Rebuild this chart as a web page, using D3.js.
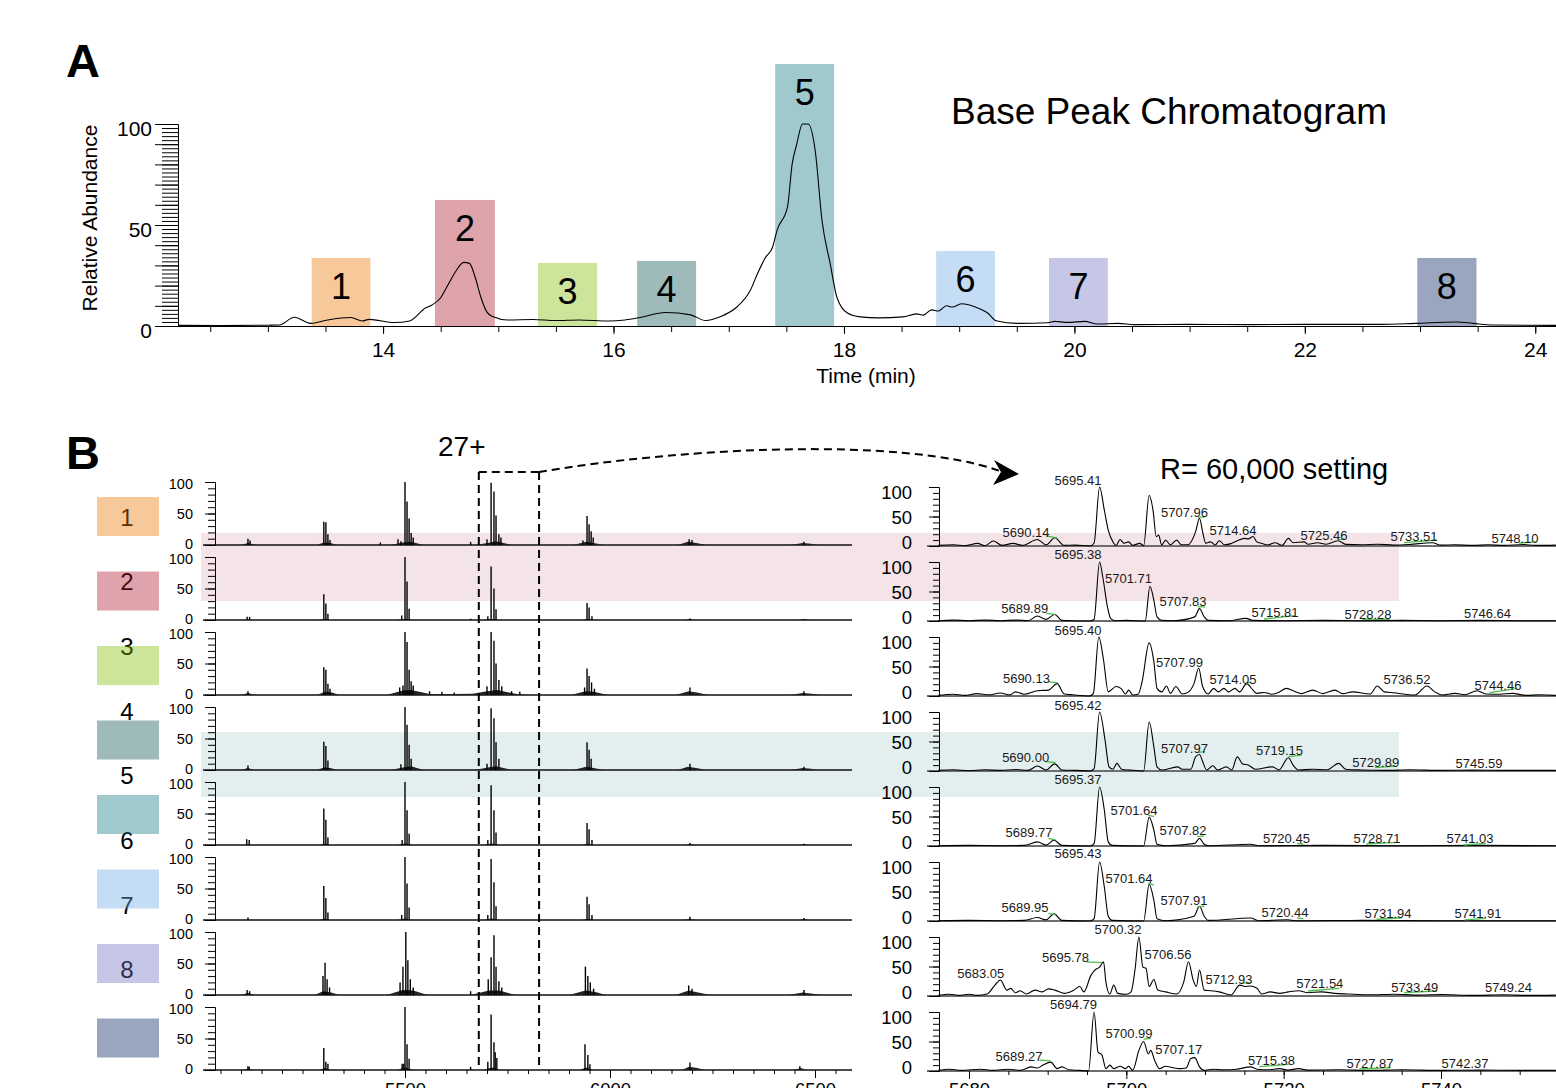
<!doctype html>
<html lang="en">
<head>
<meta charset="utf-8" />
<title>Base Peak Chromatogram / fraction spectra</title>
<script src="https://d3js.org/d3.v7.min.js"></script>
<style>
  body { margin: 0; background: #fff; }
  svg { display: block; font-family: "Liberation Sans", Arial, sans-serif; }
</style>
</head>
<body>
<script>
// ---------------- data ----------------
var fractions = ["1", "2", "3", "4", "5", "6", "7", "8"];
var fractionColors = ["#f7c89a", "#dea3ab", "#cce59a", "#9fbabb", "#9fc9cc", "#c4dcf4", "#c6c6e6", "#9aa6c0"];

// collection windows on the chromatogram (min) and marker height (% scale)
var windowStart = [13.38, 14.45, 15.345, 16.205, 17.403, 18.80, 19.78, 22.976];
var windowEnd   = [13.89, 14.97, 15.858, 16.717, 17.915, 19.31, 20.29, 23.49];
var windowTop   = [33.7, 62.4, 31.2, 32.2, 129.7, 37.1, 33.7, 33.7];

// base peak chromatogram [time (min), relative abundance]
var bpc = [[12.22,0.3],[12.6,0.2],[13.0,0.4],[13.1,0.5],[13.23,4.3],[13.37,1.3],[13.52,3],[13.72,4.2],
  [13.82,2.5],[13.88,3.3],[14.1,1.7],[14.23,2.5],[14.37,9],[14.43,10.6],[14.5,14],[14.56,20],[14.63,27],
  [14.7,31.5],[14.75,31],[14.8,24],[14.85,14],[14.9,7],[14.95,4.7],[15.08,3],[15.3,3.2],[15.5,2.7],
  [15.7,3],[15.96,2.5],[16.1,3],[16.23,4.2],[16.45,6.7],[16.67,5.5],[16.8,2.7],[16.93,4.7],[17.07,9.4],
  [17.19,18],[17.25,26],[17.32,34],[17.38,39],[17.42,47.5],[17.51,59],[17.55,80],[17.59,90],[17.64,100],
  [17.69,100],[17.75,87],[17.81,52],[17.88,31],[17.94,14],[18.03,6.4],[18.14,4.5],[18.3,4],[18.51,4.5],
  [18.63,6],[18.69,5.4],[18.76,8],[18.82,7.4],[18.89,10],[18.94,9.4],[19.02,11],[19.14,9.4],[19.25,6.3],
  [19.32,2.6],[19.5,1.3],[19.77,1.6],[19.83,2.3],[19.94,1.8],[20.09,2.3],[20.2,1],[20.38,1.3],[20.52,0.7],
  [21.0,0.8],[21.5,0.7],[22.0,0.8],[22.66,0.8],[22.96,1.3],[23.32,2],[23.46,1.3],[23.64,0.5],[24.18,0.3]];

var timeTicks = [14, 16, 18, 20, 22, 24];
var abundanceTicks = [0, 50, 100];
var mzTicksLow = [5500, 6000, 6500];
var mzTicksHigh = [5680, 5700, 5720, 5740];
var zoomWindow = [5680, 5827];   // m/z range shown at high resolution (27+)

// low resolution spectra: centroid sticks [m/z, %]
var lowSticks = [
  [[5117,10],[5122,7],[5302,37],[5307,36],[5312,17],[5317,8],[5440,4],[5483,9],[5490,6],[5500,100],[5505,69],
   [5510,42],[5515,19],[5520,12],[5660,5],[5700,9],[5710,99],[5717,85],[5722,47],[5729,17],[5734,12],
   [5934,7],[5944,46],[5949,33],[5954,22],[5959,12],[6193,9],[6200,8],[6473,5]],
  [[5115,5],[5121,5],[5302,41],[5307,26],[5312,10],[5492,7],[5500,100],[5505,61],[5510,18],[5660,2],
   [5702,6],[5710,85],[5717,50],[5722,17],[5944,27],[5949,20],[5956,6],[6195,2.5],[6473,1.5]],
  [[5117,6],[5302,44],[5307,40],[5312,18],[5317,10],[5487,12],[5495,15],[5500,100],[5505,84],[5510,40],
   [5515,22],[5520,15],[5560,6],[5590,5],[5620,4],[5700,14],[5710,100],[5717,86],[5722,50],[5729,24],
   [5736,14],[5760,6],[5780,5],[5938,12],[5944,42],[5949,30],[5955,20],[5962,10],[6195,12],[6473,6]],
  [[5117,7],[5302,45],[5307,38],[5312,15],[5490,9],[5500,100],[5505,72],[5510,40],[5515,18],[5700,10],
   [5710,98],[5717,82],[5722,44],[5729,18],[5944,44],[5949,32],[5954,18],[6195,10],[6473,5]],
  [[5114,9],[5120,8],[5302,58],[5307,40],[5312,12],[5493,8],[5500,100],[5505,55],[5510,18],[5702,8],
   [5710,95],[5717,55],[5722,20],[5944,35],[5949,25],[5956,8],[6195,3],[6473,2]],
  [[5117,4],[5302,54],[5307,35],[5312,12],[5492,8],[5500,100],[5505,58],[5510,20],[5702,8],[5710,97],
   [5717,60],[5722,22],[5944,37],[5949,25],[5956,8],[6195,5],[6473,3]],
  [[5115,8],[5121,6],[5300,30],[5305,51],[5310,25],[5316,12],[5488,20],[5495,45],[5502,100],[5507,55],
   [5513,25],[5520,12],[5660,6],[5703,25],[5710,60],[5717,95],[5722,45],[5729,22],[5736,12],[5940,45],
   [5946,30],[5952,20],[5960,10],[6192,15],[6200,10],[6473,8]],
  [[5117,6],[5120,5],[5302,35],[5307,13],[5312,10],[5493,10],[5497,10],[5500,100],[5505,41],[5510,18],
   [5660,5],[5702,13],[5710,88],[5717,44],[5720,28],[5724,19],[5939,41],[5946,24],[5951,9],[6195,12],[6463,6]]
];

// low resolution spectra: unresolved envelope under the sticks [m/z, %]
var lowEnvelope = [
  [[5100,0],[5117,3],[5130,1],[5138,0],[5285,0],[5302,4],[5318,3],[5335,0],[5465,0],[5495,4],[5515,5],[5545,0],
   [5670,0],[5702,3],[5722,6],[5760,0],[5910,0],[5942,5],[5960,3],[5985,0],[6165,0],[6190,5],[6210,3],[6235,0],
   [6440,0],[6470,3],[6490,2],[6508,0]],
  [[5290,0],[5302,1.5],[5318,0],[5480,0],[5500,2],[5520,0],[5690,0],[5710,2],[5730,0],[5930,0],[5945,1.5],[5960,0],
   [6180,0],[6195,1.5],[6210,0],[6460,0],[6473,1],[6487,0]],
  [[5100,0],[5117,3],[5135,0],[5285,0],[5305,5],[5322,4],[5340,0],[5455,0],[5495,7],[5515,8],[5560,1.5],[5620,1.5],
   [5665,2],[5700,6],[5725,8],[5775,1],[5810,0],[5905,0],[5940,6],[5960,5],[5995,0],[6160,0],[6192,6],[6212,4],
   [6240,0],[6440,0],[6470,3],[6492,2],[6510,0]],
  [[5100,0],[5117,3],[5132,0],[5285,0],[5302,4],[5318,3],[5335,0],[5465,0],[5495,4],[5515,6],[5545,0],
   [5670,0],[5702,4],[5722,6],[5760,0],[5910,0],[5942,5],[5960,3],[5985,0],[6165,0],[6190,5],[6210,3],[6235,0],
   [6440,0],[6470,3],[6490,2],[6508,0]],
  [[5290,0],[5302,2],[5318,0],[5480,0],[5500,2.5],[5520,0],[5690,0],[5712,2.5],[5730,0],[5930,0],[5945,2],[5960,0],
   [6180,0],[6195,1.5],[6210,0],[6460,0],[6473,1],[6487,0]],
  [[5290,0],[5302,2],[5318,0],[5480,0],[5500,2.5],[5520,0],[5690,0],[5712,2.5],[5730,0],[5930,0],[5945,2],[5960,0],
   [6180,0],[6195,2],[6210,0],[6460,0],[6473,1.5],[6487,0]],
  [[5100,0],[5117,3],[5135,0],[5280,0],[5300,6],[5320,4],[5340,0],[5455,0],[5495,8],[5520,7],[5555,0],
   [5660,0],[5705,7],[5730,7],[5770,0],[5900,0],[5940,7],[5962,5],[5990,0],[6160,0],[6192,7],[6215,4],[6245,0],
   [6435,0],[6470,4],[6495,2],[6515,0]],
  [[5105,0],[5117,2],[5130,0],[5290,0],[5305,3],[5320,0],[5480,0],[5500,4],[5520,0],[5690,0],[5712,4],[5735,0],
   [5925,0],[5942,4],[5960,0],[6175,0],[6193,5],[6213,3],[6230,0],[6450,0],[6465,3],[6480,0]]
];

// high resolution profiles of the 27+ region [m/z, %]
var highRes = [
  [[5676.1,1],[5678,2],[5679.5,0.5],[5681.1,4.5],[5682,0.5],[5683.1,8.4],[5684.2,1],[5685.6,4.5],[5686.8,1],
   [5688.7,11],[5689.8,2],[5690.9,14],[5692.1,1],[5693.5,1.5],[5695.4,0],[5695.9,5],[5696.6,100],[5697.2,61],
   [5697.7,27],[5698.3,7],[5698.7,1],[5699.2,11],[5699.7,4.5],[5700.3,7],[5700.8,1],[5701.7,4.5],[5702.2,0.5],
   [5702.9,86],[5703.4,60],[5703.8,16],[5704.1,18.5],[5704.5,1.7],[5705.0,10],[5705.6,2],[5706.4,10],[5707.0,2],
   [5707.8,2],[5708.8,24],[5709.3,47],[5709.7,24],[5710.1,4.5],[5710.7,7],[5711.3,1.7],[5711.8,9],[5712.5,2],
   [5713.3,4],[5714.1,9],[5715.0,13],[5715.5,12],[5716.1,16],[5716.6,7],[5717.2,4.5],[5718.0,1.7],[5718.9,5.6],
   [5719.8,1],[5720.6,13],[5721.2,5.6],[5722.6,7],[5723.1,3],[5724.3,5.6],[5725.4,3],[5726.9,9],[5727.9,2.8],
   [5729.9,2],[5732,3],[5734,1.5],[5736,2.5],[5738.9,5.6],[5740,1.5],[5741.8,2],[5744,1],[5746,2],[5748,1],
   [5750.5,2.5],[5752,1],[5754.6,1.5]],
  [[5676.1,0.5],[5678,1.5],[5680,0.5],[5682,1.5],[5684,0.5],[5686,1.5],[5687.5,0.5],[5688.7,8.4],[5689.8,2.8],
   [5690.9,11],[5691.8,1],[5693,0.5],[5695.4,0],[5695.9,3],[5696.6,100],[5697.0,75],[5697.6,24],[5698.0,4.5],
   [5698.6,0.5],[5700,1],[5702.4,0],[5703.0,59],[5703.5,35],[5703.9,7],[5704.5,1],[5706,0.5],[5708.7,7],
   [5709.3,21],[5709.9,7],[5710.4,1],[5713,0.5],[5715.2,4.5],[5716.1,1],[5720,0.5],[5725,1],[5730,0.5],
   [5735,1],[5740,0.5],[5745,1],[5750,0.5],[5754.6,0.5]],
  [[5676.1,1],[5678,3],[5679.5,1],[5681,4],[5682.5,2],[5684,5],[5685.2,2],[5685.9,7],[5687,3],[5688.7,9],
   [5690.1,10],[5691.2,21],[5692.1,3.4],[5693.2,2],[5695.3,0],[5695.8,4],[5696.5,100],[5697.1,61],[5697.7,7],
   [5698.7,16],[5699.3,13],[5699.9,3.4],[5700.3,10],[5700.8,1.7],[5701.5,3],[5702.0,24],[5702.9,90],[5703.5,58],
   [5703.9,13],[5704.5,7],[5705.1,17],[5705.6,4.5],[5706.3,16],[5707.1,3.4],[5707.9,7],[5708.6,21],[5709.2,47],
   [5709.7,16],[5710.4,3.4],[5711.1,13],[5711.7,7],[5712.4,13],[5713.0,7],[5713.8,13],[5714.4,7],[5715.3,21],
   [5716.1,10],[5716.6,4.5],[5717.5,6],[5718.5,3],[5719.5,7],[5720.3,13],[5721.2,9],[5722.3,4],[5723.7,10],
   [5725,4],[5726.5,10],[5727.5,4],[5728.8,7],[5731.0,3.4],[5731.9,17],[5732.8,7],[5733.9,5.6],[5736.7,1.7],
   [5738.2,17],[5739.2,7],[5740.1,1.7],[5741.8,4.5],[5743,2],[5744.6,9],[5745.7,3.4],[5747.5,3],[5749.1,4.5],
   [5750.8,1],[5752.5,2],[5754.6,1]],
  [[5676.1,1],[5678,2],[5680,0.5],[5682,2],[5684,1],[5686,2.5],[5687.5,1],[5688.7,8.4],[5689.8,1.7],[5690.9,12],
   [5691.8,1.7],[5693.5,1],[5695.4,0],[5695.9,4],[5696.6,100],[5697.3,52],[5697.8,7],[5698.3,3],[5698.8,13],
   [5699.4,3],[5700.5,1.5],[5702.2,0],[5702.9,83],[5703.5,41],[5703.9,7],[5704.5,1.7],[5706.5,7],[5707.1,3],
   [5708.2,3],[5708.8,24],[5709.3,28],[5709.7,16],[5710.2,1.7],[5711.0,9],[5711.6,1.7],[5712.7,7],[5713.4,1.7],
   [5714.1,24],[5714.8,12],[5715.5,10],[5716.4,3],[5718.6,7],[5719.4,1.7],[5720.6,22.5],[5721.2,10],[5721.9,1.7],
   [5723.7,3],[5725.5,2],[5727.0,13],[5727.9,3],[5729.9,1.7],[5733,1],[5736,2],[5740,1],[5744,1.5],[5748,1],
   [5754.6,1]],
  [[5676.1,0.5],[5680,1],[5684,0.5],[5687,1],[5688.7,7],[5689.8,1.7],[5690.8,10],[5691.8,1],[5695.4,0],
   [5695.9,4],[5696.6,100],[5697.2,61],[5697.7,7],[5698.2,1],[5702.2,0],[5702.9,49],[5703.5,27],[5703.9,3],
   [5705,0.5],[5708.7,4.5],[5709.3,13],[5709.9,3],[5710.4,0.5],[5715.8,3],[5716.9,0.5],[5725,1],[5735,0.5],
   [5745,1],[5754.6,0.5]],
  [[5676.1,0.5],[5680,1],[5684,0.5],[5687,1],[5688.7,6],[5689.8,2],[5690.8,12],[5691.8,1],[5695.4,0],
   [5695.9,4],[5696.6,100],[5697.2,58],[5697.7,8],[5698.2,1],[5702.2,0],[5702.9,62],[5703.5,35],[5703.9,4],
   [5705,0.5],[5708.6,8],[5709.3,25],[5709.9,8],[5710.4,1],[5715.8,5],[5716.9,0.5],[5720.5,2],[5721.5,0.5],
   [5730,1],[5740,0.5],[5754.6,0.5]],
  [[5676.1,1],[5677.5,3],[5678.8,1],[5680,3],[5681,1],[5682.3,3.4],[5683.3,18.5],[5684.0,27],[5684.8,10],
   [5685.3,13],[5685.9,5.6],[5686.5,9],[5687.3,3.4],[5688.4,10],[5689.3,7],[5690.1,12],[5690.9,10],[5692.1,4.5],
   [5693.2,9],[5694.1,16],[5694.6,7],[5695.5,35],[5696.0,44],[5696.6,49],[5697.1,58],[5697.4,24],[5697.9,3.4],
   [5698.4,18.5],[5698.9,4.5],[5700.0,3],[5700.6,7],[5701.1,44],[5701.6,100],[5702.1,49],[5702.5,47],[5702.9,16],
   [5703.5,28],[5704.0,10],[5705.0,7],[5706.4,3.4],[5707.3,24],[5707.9,58],[5708.5,27],[5708.9,16],[5709.3,44],
   [5709.9,10],[5710.7,9],[5711.8,7],[5713.3,1.7],[5714.4,18.5],[5715.1,16],[5715.7,17],[5716.6,13],[5717.2,3.4],
   [5718.3,7],[5719.5,4.5],[5720.6,7],[5721.9,9],[5723.1,5.6],[5724.8,7],[5726.5,4.5],[5728.2,3.4],[5731,2],
   [5734,3],[5737,1.5],[5740,2.5],[5744,1],[5748,2],[5751,1],[5754.6,1.5]],
  [[5676.1,1],[5677.5,3],[5679,1],[5681.5,3],[5683,1],[5685,3],[5686.5,1],[5687.9,7],[5688.7,5],[5689.4,10],
   [5690.4,15],[5691.2,4],[5691.8,7],[5692.7,2],[5694,1],[5695.2,0],[5695.9,100],[5696.4,32],[5696.9,27],
   [5697.4,4],[5697.9,10],[5698.4,4],[5699.2,8],[5699.9,4],[5700.3,8],[5700.8,1],[5701.6,35],[5702.2,50],
   [5702.8,29],[5703.1,35],[5703.6,18],[5704.2,4],[5705.0,8],[5705.9,5.6],[5706.8,4],[5707.6,5],[5708.2,21],
   [5708.7,22.6],[5709.3,7],[5709.9,1],[5711,3],[5712.5,2],[5714,3],[5715.8,7],[5716.6,3],[5718,2],[5719.5,4],
   [5720.5,1.5],[5721.9,4],[5723,1.5],[5727,2],[5731,1],[5735,2],[5740,1],[5745,1.5],[5750,1],[5754.6,1]]
];

// peak annotations [text, m/z anchor, % anchor]
var peakLabels = [
  [["5695.41",5693.86,103.4],["5690.14",5687.25,15.3],["5707.96",5707.39,49.2],["5714.64",5713.56,18.6],
   ["5725.46",5725.13,10.2],["5733.51",5736.57,8.5],["5748.10",5749.4,5.6]],
  [["5695.38",5693.86,105],["5701.71",5700.27,65],["5707.83",5707.2,25.4],["5689.89",5687.08,14],
   ["5715.81",5718.9,7.3],["5728.28",5730.72,3.9],["5746.64",5745.92,5]],
  [["5695.40",5693.86,103.4],["5707.99",5706.77,49.7],["5690.13",5687.3,22],["5714.05",5713.56,20.3],
   ["5736.52",5735.68,20.3],["5744.46",5747.24,10.2]],
  [["5695.42",5693.86,103.4],["5707.97",5707.39,31],["5719.15",5719.47,27],["5690.00",5687.2,15.8],
   ["5729.89",5731.7,7.3],["5745.59",5744.83,5]],
  [["5695.37",5693.86,105],["5701.64",5700.97,52.5],["5707.82",5707.2,18.6],["5689.77",5687.63,15.8],
   ["5720.45",5720.35,5.6],["5728.71",5731.86,5.6],["5741.03",5743.68,5.6]],
  [["5695.43",5693.86,106],["5701.64",5700.34,64.4],["5707.91",5707.33,27],["5689.95",5687.12,15.3],
   ["5720.44",5720.17,6.8],["5731.94",5733.26,5],["5741.91",5744.7,5]],
  [["5700.32",5698.94,105],["5706.56",5705.3,62.7],["5695.78",5692.27,58],["5683.05",5681.5,30.5],
   ["5712.93",5713.05,20.3],["5721.54",5724.6,13.6],["5733.49",5736.67,7.3],["5749.24",5748.58,7.3]],
  [["5694.79",5693.28,105],["5700.99",5700.34,56],["5707.17",5706.66,28.8],["5689.27",5686.36,17],
   ["5715.38",5718.45,10.2],["5727.87",5730.97,5.6],["5742.37",5743.05,5.6]]
];

// green leader marks of the peak picker [m/z1, %1, m/z2, %2]
var leaderMarks = [
  [[5689.8,17,5691.2,13.6],[5709.1,49,5710,49],[5726.8,10,5727.7,12],[5735.3,5.6,5739.5,10.2],[5749.9,5,5752.2,7.3]],
  [[5689.8,13,5691.0,11.4],[5709.1,24,5710,24],[5717.5,3.4,5721.4,9],[5730,2.9,5733.5,2.9]],
  [[5690.1,24,5691.2,22.5],[5715.2,22,5715.8,24],[5746.2,5.6,5749.7,13]],
  [[5709,31,5709.9,32.7],[5720.6,24.3,5722.3,27],[5689.8,15.8,5691,14],[5731.6,5.6,5734.2,8.5]],
  [[5702.8,52.5,5703.5,49.7],[5709,15.8,5709.9,17],[5690.1,13,5691,10.2],[5721.7,4.5,5722.5,3.4],
   [5730.5,3.4,5734.4,6.3],[5742.9,1.7,5745.7,4.5]],
  [[5702.8,64,5703.5,61],[5709,24,5709.9,25],[5690.1,13,5691,11],[5721.7,5,5722.5,4],[5731.8,3,5735,5.5],
   [5743,2,5745.7,4.5]],
  [[5694.9,58,5696.9,56.4],[5714.5,21.5,5715.8,22.6],[5723.1,8.5,5727.1,13],[5735.3,5.6,5739.5,8.5]],
  [[5702.2,54,5703.1,55.4],[5689,18.6,5690.4,17],[5716.9,7.3,5720.6,11.4],[5729.6,3.4,5733.6,5.6]]
];

// ---------------- layout ----------------
var W = 1556, H = 1088;
var font = '"Liberation Sans", Arial, sans-serif';

var svg = d3.select("body").append("svg")
    .attr("width", W)
    .attr("height", H);

// ===== Panel A =====
var xA = d3.scaleLinear().domain([12.22, 24.18]).range([178, 1556]);
var yA = d3.scaleLinear().domain([0, 100]).range([326, 124]);

var gA = svg.append("g");

gA.selectAll("rect.win")
  .data(fractions)
  .enter().append("rect")
    .attr("class", "win")
    .attr("x", function(d, i) { return xA(windowStart[i]); })
    .attr("width", function(d, i) { return xA(windowEnd[i]) - xA(windowStart[i]); })
    .attr("y", function(d, i) { return yA(windowTop[i]); })
    .attr("height", function(d, i) { return yA(0) - yA(windowTop[i]); })
    .attr("fill", function(d, i) { return fractionColors[i]; });

gA.selectAll("text.winlab")
  .data(fractions)
  .enter().append("text")
    .attr("class", "winlab")
    .attr("x", function(d, i) { return (xA(windowStart[i]) + xA(windowEnd[i])) / 2; })
    .attr("y", function(d, i) { return yA(windowTop[i]) + 41; })
    .attr("text-anchor", "middle")
    .attr("font-size", 36)
    .text(function(d) { return d; });

var lineA = d3.line()
    .x(function(d) { return xA(d[0]); })
    .y(function(d) { return yA(d[1]); })
    .curve(d3.curveMonotoneX);

gA.append("path")
    .datum(bpc)
    .attr("d", lineA)
    .attr("fill", "none")
    .attr("stroke", "#000")
    .attr("stroke-width", 1.1);

// y axis: minor every 2, major every 10
gA.append("g")
    .attr("transform", "translate(178,0)")
    .call(d3.axisLeft(yA).tickValues(d3.range(0, 101, 2)).tickSize(16).tickSizeOuter(0).tickFormat(""));
gA.append("g")
    .attr("transform", "translate(178,0)")
    .call(d3.axisLeft(yA).tickValues(d3.range(0, 101, 10)).tickSize(23).tickSizeOuter(0).tickPadding(3)
      .tickFormat(function(d) { return abundanceTicks.indexOf(d) >= 0 ? d : ""; }))
  .selectAll("text")
    .attr("font-size", 21)
    .attr("font-family", font)
    .attr("fill", "#000")
    .attr("dy", "0.55em");

// x axis
gA.append("g")
    .attr("transform", "translate(0,326)")
    .call(d3.axisBottom(xA).tickValues(d3.range(12.5, 24.01, 0.5)).tickSize(6).tickSizeOuter(0).tickFormat(""));
gA.append("g")
    .attr("transform", "translate(0,326)")
    .call(d3.axisBottom(xA).tickValues(timeTicks).tickSize(8).tickSizeOuter(0))
  .selectAll("text")
    .attr("font-size", 21)
    .attr("font-family", font)
    .attr("fill", "#000")
    .attr("y", 31)
    .attr("dy", 0);

gA.selectAll(".domain, .tick line").attr("stroke", "#000");

gA.append("text")
    .attr("x", 866).attr("y", 383)
    .attr("text-anchor", "middle")
    .attr("font-size", 21)
    .text("Time (min)");

gA.append("text")
    .attr("transform", "translate(97,218) rotate(-90)")
    .attr("text-anchor", "middle")
    .attr("font-size", 21)
    .text("Relative Abundance");

gA.append("text")
    .attr("x", 951).attr("y", 124)
    .attr("font-size", 37)
    .text("Base Peak Chromatogram");

svg.append("text")
    .attr("x", 66).attr("y", 77)
    .attr("font-size", 47).attr("font-weight", "bold")
    .text("A");

// ===== Panel B =====
var gB = svg.append("g");

// highlight bands
gB.append("rect").attr("x", 201).attr("y", 533).attr("width", 1198).attr("height", 68).attr("fill", "#f5e4e7");
gB.append("rect").attr("x", 201).attr("y", 732).attr("width", 1198).attr("height", 65).attr("fill", "#e3efee");

svg.append("text")
    .attr("x", 66).attr("y", 469)
    .attr("font-size", 47).attr("font-weight", "bold")
    .text("B");

// fraction legend: numbers under translucent boxes
var legend = gB.append("g");
legend.selectAll("text")
  .data(fractions)
  .enter().append("text")
    .attr("x", 127)
    .attr("y", function(d, i) { return 517 + 64.7 * i + 8.5; })
    .attr("text-anchor", "middle")
    .attr("font-size", 24)
    .text(function(d) { return d; });

function underColor(c) {
  var o = d3.rgb(c);
  var f = function(v) { return Math.max(0, Math.min(255, (v - 153) / 0.4)); };
  return d3.rgb(f(o.r), f(o.g), f(o.b)).toString();
}
legend.selectAll("rect")
  .data(fractions)
  .enter().append("rect")
    .attr("x", 97)
    .attr("y", function(d, i) { return 497 + 74.5 * i; })
    .attr("width", 62)
    .attr("height", 39)
    .attr("fill", function(d, i) { return underColor(fractionColors[i]); })
    .attr("fill-opacity", 0.4);

var xL = d3.scaleLinear().domain([5500, 6500]).range([405, 815]);
var xR = d3.scaleLinear().domain([5680, 5740]).range([969, 1441]);

gB.append("clipPath").attr("id", "clipR")
  .append("rect").attr("x", 938).attr("y", 440).attr("width", 620).attr("height", 650);

fractions.forEach(function(f, i) {
  var baseL = 545 + 75 * i;
  var baseR = 546 + 75 * i;
  var yL = d3.scaleLinear().domain([0, 100]).range([baseL, baseL - 63]);
  var yR = d3.scaleLinear().domain([0, 100]).range([baseR, baseR - 59]);
  var row = gB.append("g");

  // --- low resolution ---
  row.append("line")
      .attr("x1", 203).attr("x2", 852)
      .attr("y1", baseL).attr("y2", baseL)
      .attr("stroke", "#111").attr("stroke-width", 1.5);

  row.append("path")
      .datum(lowEnvelope[i])
      .attr("d", d3.area()
          .x(function(d) { return xL(d[0]); })
          .y0(baseL)
          .y1(function(d) { return yL(d[1]); }))
      .attr("fill", "#222");

  row.selectAll("line.stick")
    .data(lowSticks[i])
    .enter().append("line")
      .attr("class", "stick")
      .attr("x1", function(d) { return xL(d[0]); })
      .attr("x2", function(d) { return xL(d[0]); })
      .attr("y1", baseL)
      .attr("y2", function(d) { return yL(d[1]); })
      .attr("stroke", "#000")
      .attr("stroke-width", 1.4);

  var ayL = row.append("g").attr("transform", "translate(215,0)");
  ayL.call(d3.axisLeft(yL).tickValues(d3.range(0, 101, 10)).tickSize(7).tickSizeOuter(0).tickFormat(""));
  ayL.append("g")
      .call(d3.axisLeft(yL).tickValues(abundanceTicks).tickSize(10).tickSizeOuter(0).tickPadding(12))
    .selectAll("text")
      .attr("font-size", 14.5).attr("font-family", font).attr("fill", "#000")
      .attr("dy", function(d) { return d === 100 ? "0.42em" : d === 0 ? "0.26em" : "0.32em"; });

  // --- high resolution ---
  row.append("line")
      .attr("x1", 927).attr("x2", 1556)
      .attr("y1", baseR).attr("y2", baseR)
      .attr("stroke", "#6e6e6e").attr("stroke-width", 2);

  row.append("path")
      .datum(highRes[i])
      .attr("clip-path", "url(#clipR)")
      .attr("d", d3.line()
          .x(function(d) { return xR(d[0]); })
          .y(function(d) { return yR(d[1]); })
          .curve(d3.curveMonotoneX))
      .attr("fill", "none")
      .attr("stroke", "#000")
      .attr("stroke-width", 1.1);

  row.selectAll("line.lead")
    .data(leaderMarks[i])
    .enter().append("line")
      .attr("class", "lead")
      .attr("x1", function(d) { return xR(d[0]); })
      .attr("y1", function(d) { return yR(d[1]); })
      .attr("x2", function(d) { return xR(d[2]); })
      .attr("y2", function(d) { return yR(d[3]); })
      .attr("stroke", "#4cbb4c")
      .attr("stroke-width", 1.3);

  row.selectAll("text.pk")
    .data(peakLabels[i])
    .enter().append("text")
      .attr("class", "pk")
      .attr("x", function(d) { return xR(d[1]); })
      .attr("y", function(d) { return yR(d[2]); })
      .attr("text-anchor", "middle")
      .attr("font-size", 13)
      .attr("fill", "#1a1a1a")
      .text(function(d) { return d[0]; });

  var ayR = row.append("g").attr("transform", "translate(939,0)");
  ayR.call(d3.axisLeft(yR).tickValues(d3.range(0, 101, 10)).tickSize(6).tickSizeOuter(0).tickFormat(""));
  ayR.append("g")
      .call(d3.axisLeft(yR).tickValues(abundanceTicks).tickSize(10).tickSizeOuter(0).tickPadding(17))
    .selectAll("text")
      .attr("font-size", 18.5).attr("font-family", font).attr("fill", "#000")
      .attr("dy", function(d) { return d === 100 ? "0.62em" : d === 0 ? "0.12em" : "0.4em"; });

  // bottom m/z axes on the last row
  if (i === fractions.length - 1) {
    var axL = row.append("g").attr("transform", "translate(0," + baseL + ")");
    axL.call(d3.axisBottom(xL).tickValues(d3.range(5050, 6590, 50)).tickSize(4).tickSizeOuter(0).tickFormat(""));
    axL.append("g")
        .call(d3.axisBottom(xL).tickValues(mzTicksLow).tickSize(8).tickSizeOuter(0).tickFormat(d3.format("d")))
      .selectAll("text")
        .attr("font-size", 18.5).attr("font-family", font).attr("fill", "#000")
        .attr("y", 26).attr("dy", 0);
    axL.selectAll(".domain").remove();

    var axR = row.append("g").attr("transform", "translate(0," + baseR + ")");
    axR.call(d3.axisBottom(xR).tickValues(d3.range(5680, 5755, 5)).tickSize(4).tickSizeOuter(0).tickFormat(""));
    axR.append("g")
        .call(d3.axisBottom(xR).tickValues(mzTicksHigh).tickSize(8).tickSizeOuter(0).tickFormat(d3.format("d")))
      .selectAll("text")
        .attr("font-size", 18.5).attr("font-family", font).attr("fill", "#000")
        .attr("y", 25).attr("dy", 0);
    axR.selectAll(".domain").remove();
  }
});

gB.selectAll(".domain, .tick line").attr("stroke", "#000");

// zoom window (dashed) and arrow to the high resolution column
var dash = gB.append("g")
    .attr("fill", "none")
    .attr("stroke", "#000")
    .attr("stroke-width", 2)
    .attr("stroke-dasharray", "8,5");
var x0 = xL(zoomWindow[0]), x1 = xL(zoomWindow[1]);
var boxTop = 472, boxBottom = 545 + 75 * 7;
dash.append("line").attr("x1", x0).attr("x2", x0).attr("y1", boxTop).attr("y2", boxBottom);
dash.append("line").attr("x1", x1).attr("x2", x1).attr("y1", boxTop).attr("y2", boxBottom);
dash.append("line").attr("x1", x0).attr("x2", x1).attr("y1", boxTop).attr("y2", boxTop);

var arrow = d3.path();
arrow.moveTo(x1, boxTop);
arrow.bezierCurveTo(680, 448, 900, 436, 1000, 471);
dash.append("path").attr("d", arrow.toString());

gB.append("path")
    .attr("d", "M1019,474 L994,460 L1001,472 L993,485 Z")
    .attr("fill", "#000");

gB.append("text")
    .attr("x", 438).attr("y", 456)
    .attr("font-size", 28)
    .text("27+");

gB.append("text")
    .attr("x", 1160).attr("y", 479)
    .attr("font-size", 29)
    .text("R= 60,000 setting");
</script>
</body>
</html>
